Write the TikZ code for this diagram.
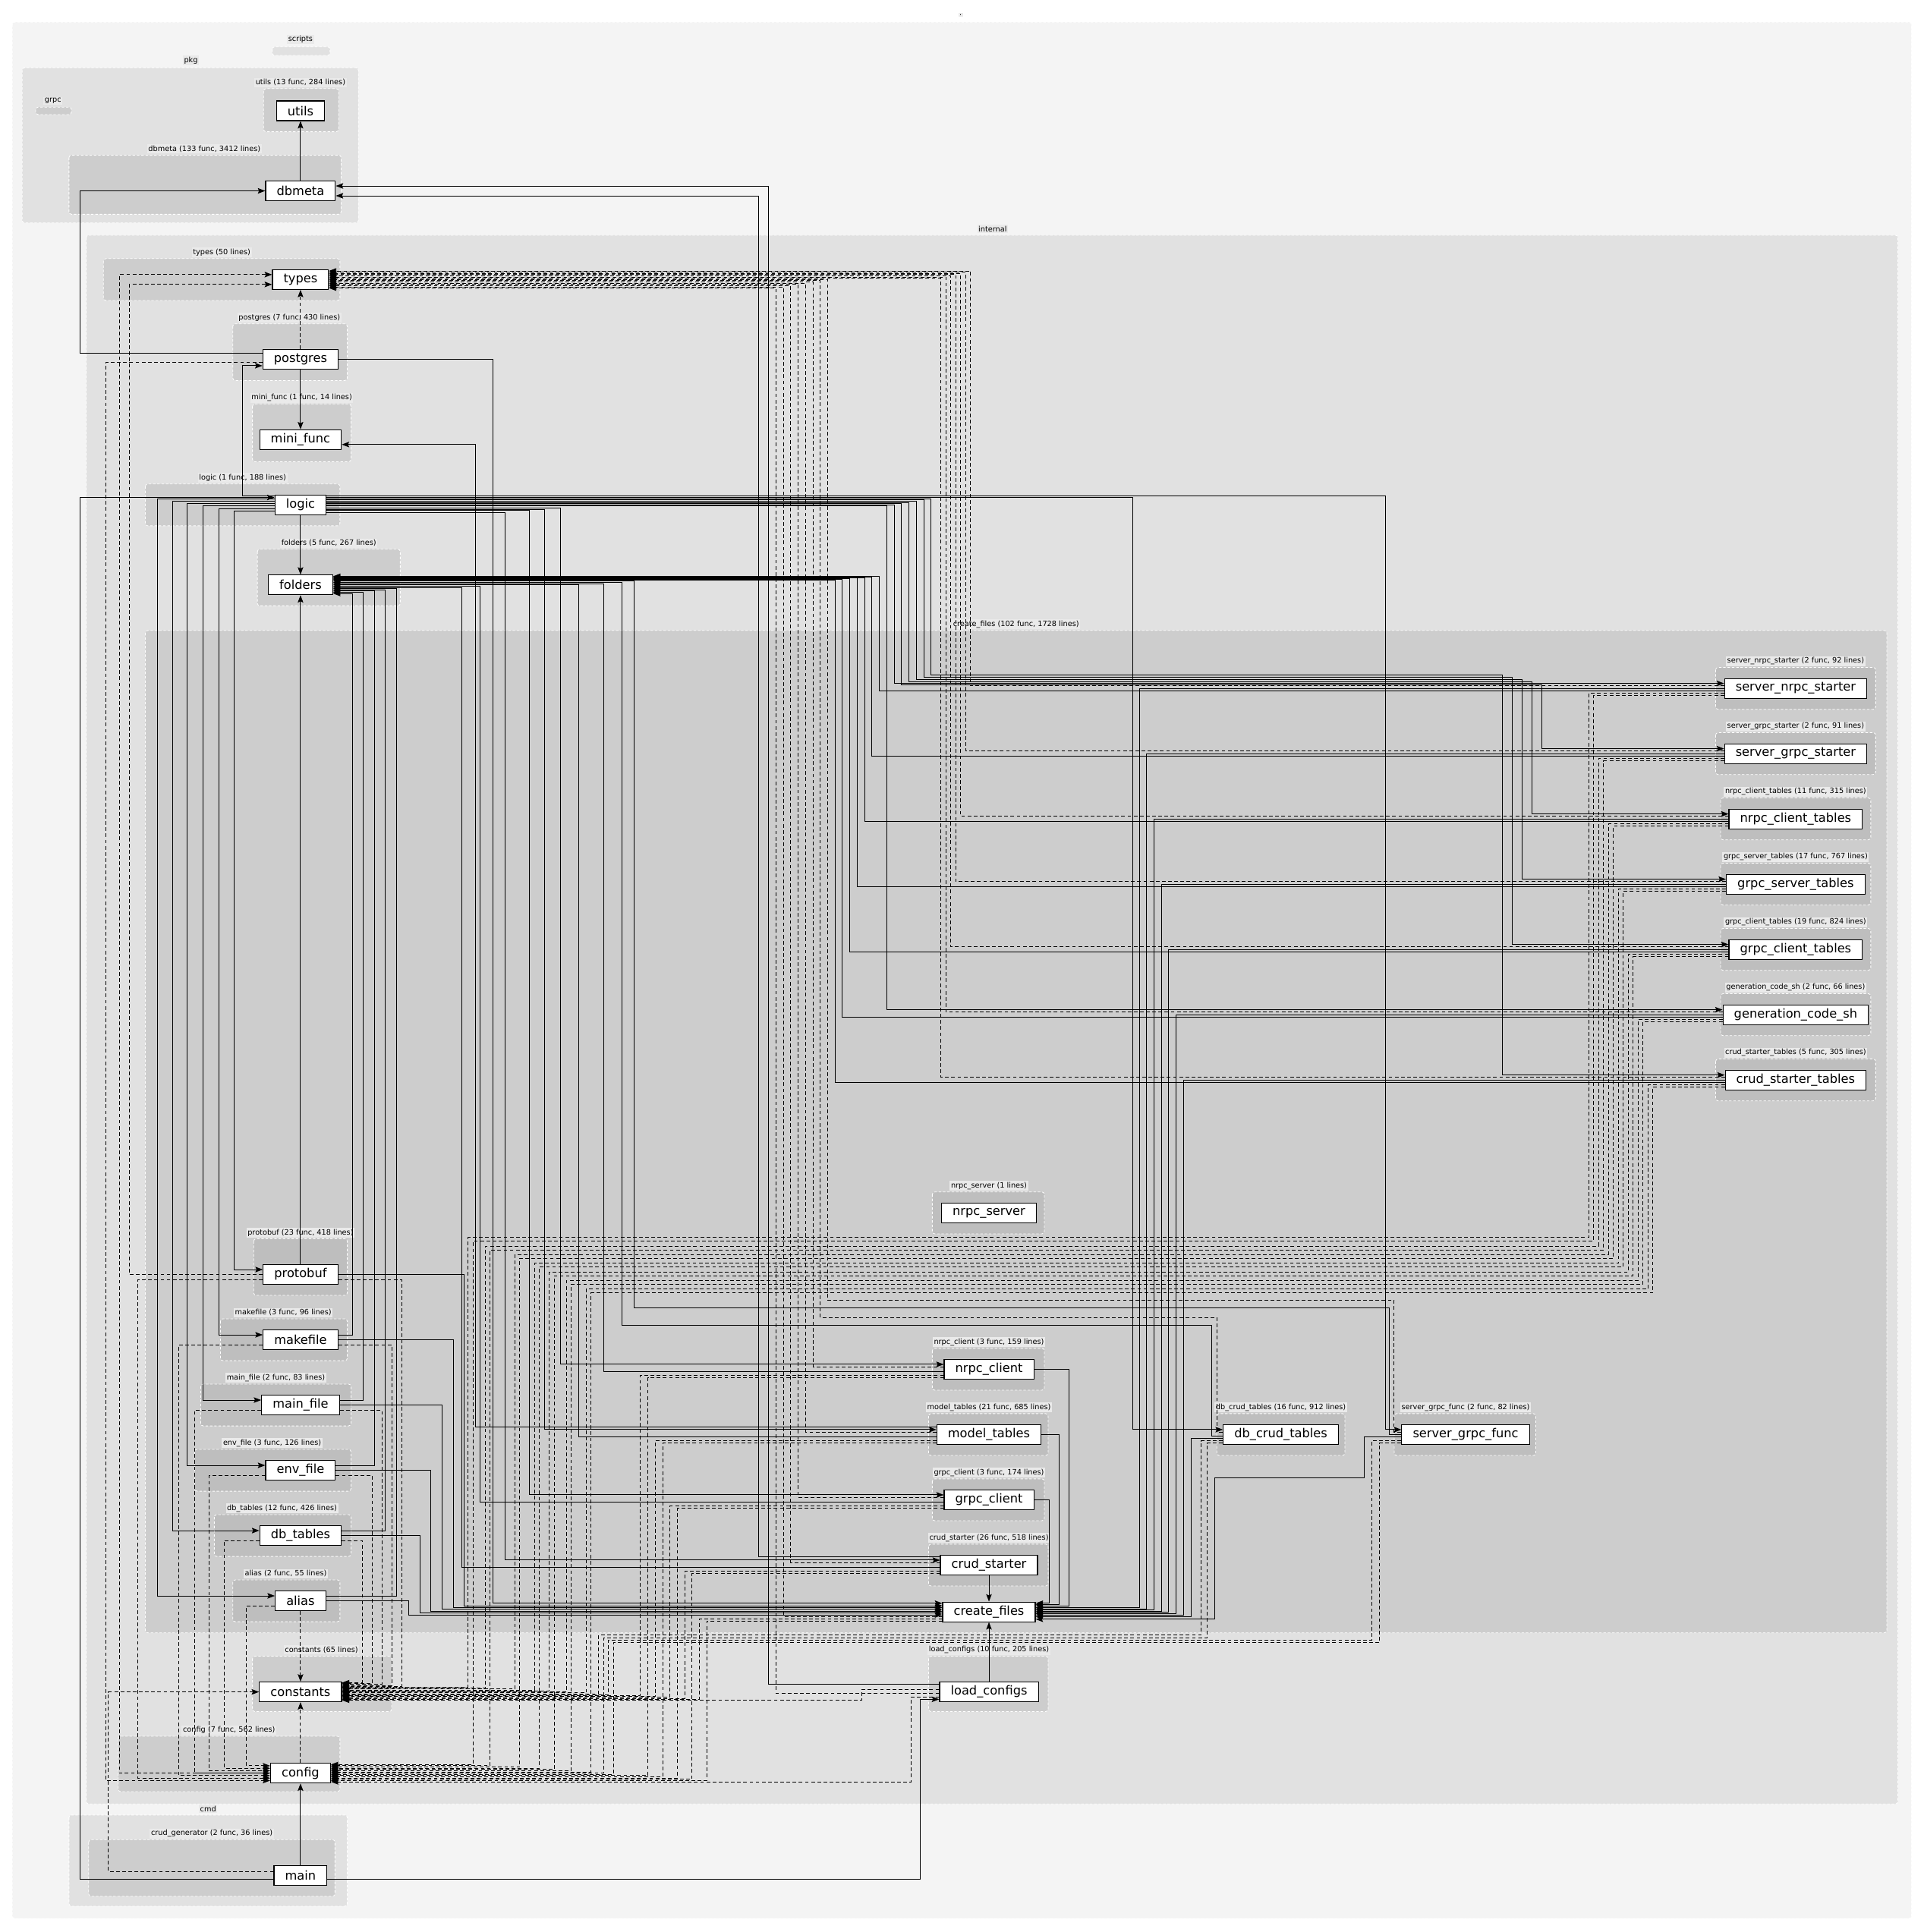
\documentclass[tikz,border=0pt]{standalone}
\usepackage{fontspec}
\setmainfont{DejaVu Sans}
\usetikzlibrary{arrows.meta}

\definecolor{lvzero}{HTML}{F4F4F4}
\definecolor{lvone}{HTML}{E1E1E1}
\definecolor{lvtwo}{HTML}{CDCDCD}
\definecolor{lvthree}{HTML}{BEBEBE}
\definecolor{lblbg}{HTML}{EAEAEA}

\tikzset{
  pkgnode/.style={draw, fill=white, line width=0.7pt, font=\fontsize{10}{12}\selectfont,
    minimum height=16pt, inner xsep=9pt, inner ysep=0pt},
  clusterbox/.style={draw=white, dash pattern=on 2pt off 1.5pt, line width=0.5pt, rounded corners=2pt},
  clusterlbl/.style={fill=lblbg, font=\fontsize{6}{7}\selectfont, inner sep=1pt},
  dep/.style={line width=0.6pt, -{Stealth[length=6pt,width=4.5pt,inset=1pt]}},
  dashdep/.style={dep, dash pattern=on 3pt off 2pt},
}

\begin{document}
\begin{tikzpicture}[x=1pt, y=-1pt]
\useasboundingbox (0,0) rectangle (1562,1569);
\fill[white] (0,0) rectangle (1562,1569);

% root
\draw[clusterbox, fill=lvzero] (10,18) rectangle (1552,1558);
\node[clusterlbl] (l-root) at (780,12) {.};
\draw[clusterbox, fill=lvone] (221,38) rectangle (268,45);
\node[clusterlbl] (l-scripts) at (244,32) {scripts};

% pkg
\draw[clusterbox, fill=lvone] (18,55) rectangle (291,181);
\node[clusterlbl] (l-pkg) at (155,49) {pkg};
\draw[clusterbox, fill=lvtwo] (29,87) rectangle (58,93);
\node[clusterlbl] (l-grpc) at (43,82) {grpc};
\draw[clusterbox, fill=lvtwo] (214,72) rectangle (275,107);
\node[clusterlbl] (l-utils) at (244,67) {utils (13 func, 284 lines)};
\draw[clusterbox, fill=lvtwo] (56,126) rectangle (277,174);
\node[clusterlbl] (l-dbmeta) at (166,121) {dbmeta (133 func, 3412 lines)};

% internal
\draw[clusterbox, fill=lvone] (70,191) rectangle (1541,1465);
\node[clusterlbl] (l-internal) at (806,186) {internal};
\draw[clusterbox, fill=lvtwo] (84,210) rectangle (276,244);
\node[clusterlbl] (l-types) at (180,205) {types (50 lines)};
\draw[clusterbox, fill=lvtwo] (189,263) rectangle (282,309);
\node[clusterlbl] (l-postgres) at (235,258) {postgres (7 func, 430 lines)};
\draw[clusterbox, fill=lvtwo] (205,328) rectangle (285,375);
\node[clusterlbl] (l-minifunc) at (245,323) {mini\_func (1 func, 14 lines)};
\draw[clusterbox, fill=lvtwo] (118,393) rectangle (276,427);
\node[clusterlbl] (l-logic) at (197,388) {logic (1 func, 188 lines)};
\draw[clusterbox, fill=lvtwo] (209,446) rectangle (325,492);
\node[clusterlbl] (l-folders) at (267,441) {folders (5 func, 267 lines)};
\draw[clusterbox, fill=lvtwo] (205,1345) rectangle (318,1390);
\node[clusterlbl] (l-constants) at (261,1340) {constants (65 lines)};
\draw[clusterbox, fill=lvtwo] (754,1345) rectangle (851,1390);
\node[clusterlbl] (l-loadconfigs) at (803,1340) {load\_configs (10 func, 205 lines)};
\draw[clusterbox, fill=lvtwo] (96,1410) rectangle (276,1455);
\node[clusterlbl] (l-config) at (186,1405) {config (7 func, 562 lines)};

% create_files
\draw[clusterbox, fill=lvtwo] (118,512) rectangle (1532,1326);
\node[clusterlbl] (l-createfiles) at (825,507) {create\_files (102 func, 1728 lines)};
\draw[clusterbox, fill=lvthree] (1393,542) rectangle (1523,576);
\node[clusterlbl] (l-snrs) at (1458,537) {server\_nrpc\_starter (2 func, 92 lines)};
\draw[clusterbox, fill=lvthree] (1393,595) rectangle (1523,629);
\node[clusterlbl] (l-sgrs) at (1458,590) {server\_grpc\_starter (2 func, 91 lines)};
\draw[clusterbox, fill=lvthree] (1397,648) rectangle (1519,682);
\node[clusterlbl] (l-nct) at (1458,643) {nrpc\_client\_tables (11 func, 315 lines)};
\draw[clusterbox, fill=lvthree] (1397,701) rectangle (1519,735);
\node[clusterlbl] (l-gst) at (1458,696) {grpc\_server\_tables (17 func, 767 lines)};
\draw[clusterbox, fill=lvthree] (1397,754) rectangle (1519,788);
\node[clusterlbl] (l-gct) at (1458,749) {grpc\_client\_tables (19 func, 824 lines)};
\draw[clusterbox, fill=lvthree] (1397,807) rectangle (1519,841);
\node[clusterlbl] (l-gcs) at (1458,802) {generation\_code\_sh (2 func, 66 lines)};
\draw[clusterbox, fill=lvthree] (1393,860) rectangle (1523,894);
\node[clusterlbl] (l-cst) at (1458,855) {crud\_starter\_tables (5 func, 305 lines)};
\draw[clusterbox, fill=lvthree] (757,968) rectangle (848,1002);
\node[clusterlbl] (l-nrpcserver) at (803,963) {nrpc\_server (1 lines)};
\draw[clusterbox, fill=lvthree] (206,1006) rectangle (282,1052);
\node[clusterlbl] (l-protobuf) at (244,1001) {protobuf (23 func, 418 lines)};
\draw[clusterbox, fill=lvthree] (179,1071) rectangle (282,1105);
\node[clusterlbl] (l-makefile) at (230,1066) {makefile (3 func, 96 lines)};
\draw[clusterbox, fill=lvthree] (163,1124) rectangle (285,1158);
\node[clusterlbl] (l-mainfile) at (224,1119) {main\_file (2 func, 83 lines)};
\draw[clusterbox, fill=lvthree] (158,1177) rectangle (285,1211);
\node[clusterlbl] (l-envfile) at (221,1172) {env\_file (3 func, 126 lines)};
\draw[clusterbox, fill=lvthree] (174,1230) rectangle (285,1264);
\node[clusterlbl] (l-dbtables) at (229,1225) {db\_tables (12 func, 426 lines)};
\draw[clusterbox, fill=lvthree] (189,1283) rectangle (276,1317);
\node[clusterlbl] (l-alias) at (232,1278) {alias (2 func, 55 lines)};
\draw[clusterbox, fill=lvthree] (757,1095) rectangle (848,1129);
\node[clusterlbl] (l-nrpcclient) at (803,1090) {nrpc\_client (3 func, 159 lines)};
\draw[clusterbox, fill=lvthree] (754,1148) rectangle (851,1182);
\node[clusterlbl] (l-modeltables) at (803,1143) {model\_tables (21 func, 685 lines)};
\draw[clusterbox, fill=lvthree] (757,1201) rectangle (848,1235);
\node[clusterlbl] (l-grpcclient) at (803,1196) {grpc\_client (3 func, 174 lines)};
\draw[clusterbox, fill=lvthree] (754,1254) rectangle (851,1288);
\node[clusterlbl] (l-crudstarter) at (803,1249) {crud\_starter (26 func, 518 lines)};
\draw[clusterbox, fill=lvthree] (988,1148) rectangle (1092,1182);
\node[clusterlbl] (l-dbcrud) at (1040,1143) {db\_crud\_tables (16 func, 912 lines)};
\draw[clusterbox, fill=lvthree] (1132,1148) rectangle (1247,1182);
\node[clusterlbl] (l-sgf) at (1190,1143) {server\_grpc\_func (2 func, 82 lines)};

% cmd
\draw[clusterbox, fill=lvone] (56,1474) rectangle (282,1548);
\node[clusterlbl] (l-cmd) at (169,1469) {cmd};
\draw[clusterbox, fill=lvtwo] (72,1494) rectangle (272,1540);
\node[clusterlbl] (l-crudgen) at (172,1489) {crud\_generator (2 func, 36 lines)};

% packages
\node[pkgnode] (utils) at (244,90) {utils};
\node[pkgnode] (dbmeta) at (244,155) {dbmeta};
\node[pkgnode] (types) at (244,227) {types};
\node[pkgnode] (postgres) at (244,292) {postgres};
\node[pkgnode] (mini_func) at (244,357) {mini\_func};
\node[pkgnode] (logic) at (244,410) {logic};
\node[pkgnode] (folders) at (244,475) {folders};
\node[pkgnode] (server_nrpc_starter) at (1458,559) {server\_nrpc\_starter};
\node[pkgnode] (server_grpc_starter) at (1458,612) {server\_grpc\_starter};
\node[pkgnode] (nrpc_client_tables) at (1458,665) {nrpc\_client\_tables};
\node[pkgnode] (grpc_server_tables) at (1458,718) {grpc\_server\_tables};
\node[pkgnode] (grpc_client_tables) at (1458,771) {grpc\_client\_tables};
\node[pkgnode] (generation_code_sh) at (1458,824) {generation\_code\_sh};
\node[pkgnode] (crud_starter_tables) at (1458,877) {crud\_starter\_tables};
\node[pkgnode] (nrpc_server) at (803,985) {nrpc\_server};
\node[pkgnode] (protobuf) at (244,1035) {protobuf};
\node[pkgnode] (makefile) at (244,1088) {makefile};
\node[pkgnode] (main_file) at (244,1141) {main\_file};
\node[pkgnode] (env_file) at (244,1194) {env\_file};
\node[pkgnode] (db_tables) at (244,1247) {db\_tables};
\node[pkgnode] (alias) at (244,1300) {alias};
\node[pkgnode] (nrpc_client) at (803,1112) {nrpc\_client};
\node[pkgnode] (model_tables) at (803,1165) {model\_tables};
\node[pkgnode] (grpc_client) at (803,1218) {grpc\_client};
\node[pkgnode] (crud_starter) at (803,1271) {crud\_starter};
\node[pkgnode] (create_files) at (803,1309) {create\_files};
\node[pkgnode] (db_crud_tables) at (1040,1165) {db\_crud\_tables};
\node[pkgnode] (server_grpc_func) at (1190,1165) {server\_grpc\_func};
\node[pkgnode] (constants) at (244,1374) {constants};
\node[pkgnode] (load_configs) at (803,1374) {load\_configs};
\node[pkgnode] (config) at (244,1440) {config};
\node[pkgnode] (main) at (244,1523) {main};

% straight imports
\draw[dep] (dbmeta) -- (utils);
\draw[dep] (postgres) -- (mini_func);
\draw[dep] (logic) -- (folders);
\draw[dep] (protobuf) -- (folders);
\draw[dep] (crud_starter) -- (create_files);
\draw[dep] (load_configs) -- (create_files);
\draw[dep] (main) -- (config);
\draw[dashdep] (postgres) -- (types);
\draw[dashdep] (alias) -- (constants);
\draw[dashdep] (config) -- (constants);

% solid, one lane
\foreach \src/\ya/\xl/\dst/\yb in {
  postgres.west/5/65/dbmeta.west/0, main.west/-3/65/logic.west/6,
  main.east/-3/747/load_configs.west/-6, load_configs.west/6/624/dbmeta.east/4,
  crud_starter.west/7/616/dbmeta.east/-4, postgres.east/0/400/create_files.west/7,
  model_tables.west/6/386/mini_func.east/-4,
  logic.west/7/197/postgres.west/-5, logic.west/5/128/alias.west/4,
  logic.west/3/140/db_tables.west/4, logic.west/1/152/env_file.west/4,
  logic.west/-1/165/main_file.west/4, logic.west/-3/178/makefile.west/4,
  logic.west/-5/190/protobuf.west/4,
  logic.east/7/1125/server_grpc_func.west/4, logic.east/6/920/db_crud_tables.west/4,
  logic.east/-1/720/generation_code_sh.west/4, logic.east/-2.5/455/nrpc_client.west/4,
  logic.east/-3.5/442/model_tables.west/4, logic.east/-4.5/430/grpc_client.west/4,
  logic.east/-6/410/crud_starter.west/4,
  makefile.east/4/286/folders.east/-7, main_file.east/4/295/folders.east/-6,
  env_file.east/4/304/folders.east/-5, db_tables.east/4/313/folders.east/-4,
  alias.east/4/322/folders.east/-3,
  crud_starter.west/-2/375/folders.east/-2, grpc_client.west/-2/390/folders.east/-1,
  model_tables.west/-2/470/folders.east/0, nrpc_client.west/-2/490/folders.east/1,
  crud_starter_tables.west/-2/678/folders.east/4, generation_code_sh.west/-2/684/folders.east/4.5,
  grpc_client_tables.west/-2/690/folders.east/5, grpc_server_tables.west/-2/696/folders.east/5.5,
  nrpc_client_tables.west/-2/702/folders.east/6, server_grpc_starter.west/-2/708/folders.east/6.5,
  server_nrpc_starter.west/-2/714/folders.east/7,
  protobuf.east/0/377/create_files.west/5, makefile.east/0/368/create_files.west/3.5,
  main_file.east/0/359/create_files.west/2, env_file.east/0/350/create_files.west/0.5,
  db_tables.east/0/341/create_files.west/-1, alias.east/0/332/create_files.west/-2.5,
  grpc_client.east/0/852/create_files.east/7, model_tables.east/0/860/create_files.east/6,
  nrpc_client.east/0/868/create_files.east/5,
  server_nrpc_starter.west/0/925/create_files.east/3.5, server_grpc_starter.west/0/931/create_files.east/2.5,
  nrpc_client_tables.west/0/937/create_files.east/1.5, grpc_server_tables.west/0/943/create_files.east/0.5,
  grpc_client_tables.west/0/949/create_files.east/-0.5, generation_code_sh.west/0/955/create_files.east/-1.5,
  crud_starter_tables.west/0/961/create_files.east/-2.5, db_crud_tables.west/-3/967/create_files.east/-4}{
  \coordinate (lane) at (\xl,0);
  \draw[dep] ([yshift=\ya]\src) coordinate (p) -- (p -| lane) |- ([yshift=\yb]\dst);
}

% solid, two lanes
\foreach \src/\ya/\xa/\yh/\xb/\dst/\yb in {
  logic.east/5/756/548/1220/crud_starter_tables.west/4,
  logic.east/4/750/550/1228/grpc_client_tables.west/4,
  logic.east/3/744/552/1236/grpc_server_tables.west/4,
  logic.east/2/738/554/1244/nrpc_client_tables.west/4,
  logic.east/1/732/556/1252/server_grpc_starter.west/4,
  logic.east/0/726/555/1262/server_nrpc_starter.west/4,
  db_crud_tables.west/-1/984/1076/505/folders.east/2,
  server_grpc_func.west/0/1128/1062/515/folders.east/3,
  server_grpc_func.west/-2/1108/1200/986/create_files.east/-6}{
  \coordinate (lane) at (\xa,0);
  \draw[dep] ([yshift=\ya]\src) coordinate (p) -- (p -| lane) -- (\xa,\yh) -- (\xb,\yh) |- ([yshift=\yb]\dst);
}

% dashed, one lane
\foreach \src/\ya/\xl/\dst/\yb in {
  postgres.west/-2/86/config.west/-6, protobuf.west/-4/112/config.west/-4,
  makefile.west/-4/145/config.west/-2, main_file.west/-4/158/config.west/0,
  env_file.west/-4/170/config.west/2, db_tables.west/-4/182/config.west/4,
  alias.west/-4/200/config.west/6,
  config.west/0/97/types.west/4, protobuf.west/0/105/types.west/-4,
  main.west/3/88/constants.west/0,
  load_configs.west/-1/630/types.east/-7, create_files.west/-4/636/types.east/-6,
  crud_starter.west/2/642/types.east/-5, grpc_client.west/2/648/types.east/-4,
  model_tables.west/2/654/types.east/-3, nrpc_client.west/2/660/types.east/-2,
  crud_starter_tables.west/2/764/types.east/1, generation_code_sh.west/2/768/types.east/2,
  grpc_client_tables.west/2/772/types.east/3, grpc_server_tables.west/2/776/types.east/4,
  nrpc_client_tables.west/2/780/types.east/5, server_grpc_starter.west/2/784/types.east/6,
  server_nrpc_starter.west/2/788/types.east/7,
  db_tables.east/-4/294/constants.east/7.5, env_file.east/-4/302/constants.east/6.75,
  main_file.east/-4/310/constants.east/6, makefile.east/-4/318/constants.east/5.25,
  protobuf.east/-4/326/constants.east/4.5,
  nrpc_client.west/-5/520/constants.east/-3, model_tables.west/-5/532/constants.east/-3.75,
  grpc_client.west/-5/544/constants.east/-4.5, crud_starter.west/-5/556/constants.east/-5.25,
  create_files.west/-6/568/constants.east/-6, load_configs.west/2/700/constants.east/-6.75,
  nrpc_client.west/-7/526/config.east/-2, model_tables.west/-7/538/config.east/-3,
  grpc_client.west/-7/550/config.east/-4, crud_starter.west/-7/562/config.east/-5,
  create_files.west/-7.5/574/config.east/-6, load_configs.west/-4/740/config.east/-7}{
  \coordinate (lane) at (\xl,0);
  \draw[dashdep] ([yshift=\ya]\src) coordinate (p) -- (p -| lane) |- ([yshift=\yb]\dst);
}

% dashed, two lanes
\foreach \src/\ya/\xa/\yh/\xb/\dst/\yb in {
  server_nrpc_starter.west/-4/1290/1005/380/constants.east/3.75,
  server_grpc_starter.west/-4/1298/1012/394/constants.east/3,
  nrpc_client_tables.west/-4/1306/1019/418/constants.east/2.25,
  grpc_server_tables.west/-4/1314/1026/434/constants.east/1.5,
  grpc_client_tables.west/-4/1322/1033/446/constants.east/0.75,
  generation_code_sh.west/-4/1330/1040/460/constants.east/0,
  crud_starter_tables.west/-4/1338/1047/476/constants.east/-0.75,
  server_nrpc_starter.west/-6/1294/1008/384/config.east/7,
  server_grpc_starter.west/-6/1302/1015/398/config.east/6,
  nrpc_client_tables.west/-6/1310/1022/422/config.east/5,
  grpc_server_tables.west/-6/1318/1029/438/config.east/4,
  grpc_client_tables.west/-6/1326/1036/450/config.east/3,
  generation_code_sh.west/-6/1334/1043/464/config.east/2,
  crud_starter_tables.west/-6/1342/1050/480/config.east/1,
  db_crud_tables.west/2/988/1070/666/types.east/-1,
  server_grpc_func.west/2/1132/1056/672/types.east/0,
  db_crud_tables.west/-5/975/1328/486/constants.east/-1.5,
  db_crud_tables.west/-7/980/1330/490/config.east/0,
  server_grpc_func.west/-5/1114/1332/494/constants.east/-2.25,
  server_grpc_func.west/-7/1120/1334/498/config.east/-1}{
  \coordinate (lane) at (\xa,0);
  \draw[dashdep] ([yshift=\ya]\src) coordinate (p) -- (p -| lane) -- (\xa,\yh) -- (\xb,\yh) |- ([yshift=\yb]\dst);
}
\end{tikzpicture}
\end{document}
